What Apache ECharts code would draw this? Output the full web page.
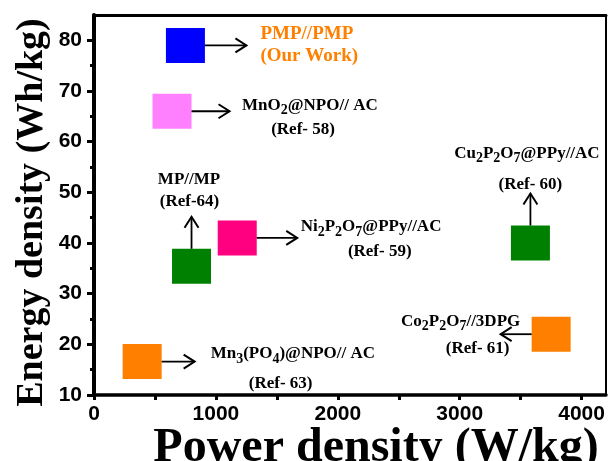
<!DOCTYPE html>
<html>
<head>
<meta charset="utf-8">
<script src="https://cdn.jsdelivr.net/npm/echarts@6/dist/echarts.min.js"></script>
<style>
  html, body { margin: 0; padding: 0; background: #ffffff; }
  #chart { width: 610px; height: 461px; }
</style>
</head>
<body>
<div id="chart"></div>
<script>
// Ragone plot: energy density against power density for several supercapacitor devices.
const devices = ['PMP//PMP', 'MnO₂@NPO// AC', 'MP//MP', 'Ni₂P₂O₇@PPy//AC', 'Cu₂P₂O₇@PPy//AC', 'Co₂P₂O₇//3DPG', 'Mn₃(PO₄)@NPO// AC'];
const references = ['(Our Work)', '(Ref- 58)', '(Ref-64)', '(Ref- 59)', '(Ref- 60)', '(Ref- 61)', '(Ref- 63)'];
const powerDensity = [750, 640, 800, 1175, 3580, 3750, 395];      // W/kg
const energyDensity = [79, 66, 35.4, 41, 40, 22, 16.6];          // Wh/kg

const xTickValues = [0, 500, 1000, 1500, 2000, 2500, 3000, 3500, 4000];
const xLabelValues = [0, 1000, 2000, 3000, 4000];
const yLabelValues = [10, 20, 30, 40, 50, 60, 70, 80];
const yMinorValues = [15, 25, 35, 45, 55, 65, 75];

// Marker fill for each device
const markerColors = ['#0000ff', '#ff80ff', '#008000', '#ff0080', '#008000', '#ff8000', '#ff8000'];

// Callout layout, in pixels relative to the marker centre:
// arrow direction and span, then the anchor of the device name and the reference line.
const callouts = [
  { dir: 'right', from: 19.5, to: 61,   name: [75, -13.5, 'left'],     ref: [75, 8.5, 'left'],        color: '#ff8000', size: 19 },
  { dir: 'right', from: 19.5, to: 57.5, name: [70, -7.5, 'left'],      ref: [131, 16.5, 'center'],    color: '#000000', size: 17 },
  { dir: 'up',    from: 17.5, to: 49.5, name: [-2.5, -89, 'center'],   ref: [-2, -67, 'center'],      color: '#000000', size: 17 },
  { dir: 'right', from: 19.5, to: 60,   name: [63.5, -13, 'left'],     ref: [142.5, 11.5, 'center'],  color: '#000000', size: 17 },
  { dir: 'up',    from: 17.5, to: 49.5, name: [-3.5, -91.5, 'center'], ref: [0, -60.5, 'center'],     color: '#000000', size: 17 },
  { dir: 'left',  from: 19.5, to: 50.5, name: [-90.5, -14.5, 'center'], ref: [-73.5, 12.5, 'center'], color: '#000000', size: 17 },
  { dir: 'right', from: 19.5, to: 52.5, name: [68.5, -9.5, 'left'],    ref: [138.5, 20.5, 'center'],  color: '#000000', size: 17 }
];

const SUBS = { '₀': '0', '₁': '1', '₂': '2', '₃': '3', '₄': '4', '₅': '5', '₆': '6', '₇': '7', '₈': '8', '₉': '9' };
const LABEL_FAMILY = '"Liberation Serif", "Times New Roman", serif';

// Split a label into normal and subscript runs (Unicode subscript digits become lowered digits)
function splitRuns(str) {
  const runs = [];
  for (const ch of str) {
    const sub = !!SUBS[ch];
    const c = sub ? SUBS[ch] : ch;
    const last = runs[runs.length - 1];
    if (last && last.sub === sub) last.text += c;
    else runs.push({ text: c, sub });
  }
  return runs;
}

const measureCtx = document.createElement('canvas').getContext('2d');
function textWidth(text, size) {
  measureCtx.font = 'bold ' + size + 'px ' + LABEL_FAMILY;
  return measureCtx.measureText(text).width;
}

// One text element per run, laid out left to right around an anchor
function labelPieces(str, x, y, align, size, color) {
  const subSize = Math.round(size * 0.85);
  const runs = splitRuns(str).map(r => {
    const s = r.sub ? subSize : size;
    return { ...r, size: s, w: textWidth(r.text, s) };
  });
  const total = runs.reduce((a, r) => a + r.w, 0);
  let cursor = align === 'center' ? x - total / 2 : (align === 'right' ? x - total : x);
  return runs.map(r => {
    const el = {
      type: 'text', x: cursor, y: r.sub ? y + 5 : y,
      style: {
        text: r.text, fill: color, fontFamily: LABEL_FAMILY, fontWeight: 'bold',
        fontSize: r.size, align: 'left', verticalAlign: 'middle'
      }
    };
    cursor += r.w;
    return el;
  });
}

const points = powerDensity.map((x, i) => [x, energyDensity[i]]);

function renderCallout(params, api) {
  const i = params.dataIndex;
  const c = api.coord([api.value(0), api.value(1)]);
  const L = callouts[i];
  const cx = c[0], cy = c[1];
  let x1, y1, x2, y2, head;
  const hl = 11, hw = 7;
  if (L.dir === 'right') {
    x1 = cx + L.from; x2 = cx + L.to; y1 = y2 = cy;
    head = [[x2 - hl, y2 - hw], [x2, y2], [x2 - hl, y2 + hw]];
  } else if (L.dir === 'left') {
    x1 = cx - L.from; x2 = cx - L.to; y1 = y2 = cy;
    head = [[x2 + hl, y2 - hw], [x2, y2], [x2 + hl, y2 + hw]];
  } else {
    x1 = x2 = cx; y1 = cy - L.from; y2 = cy - L.to;
    head = [[x2 - hw, y2 + hl], [x2, y2], [x2 + hw, y2 + hl]];
  }
  const children = [
    { type: 'line', shape: { x1, y1, x2, y2 }, style: { stroke: '#000', lineWidth: 1.8 } },
    { type: 'polyline', shape: { points: head }, style: { stroke: '#000', lineWidth: 2, fill: null } }
  ];
  children.push(...labelPieces(devices[i], cx + L.name[0], cy + L.name[1] + 2, L.name[2], L.size, L.color));
  children.push(...labelPieces(references[i], cx + L.ref[0], cy + L.ref[1] + 2, L.ref[2], L.size, L.color));
  return { type: 'group', children };
}

const chart = echarts.init(document.getElementById('chart'), null, { renderer: 'canvas' });

const tickFont = { fontFamily: 'Liberation Sans', fontWeight: 'bold', color: '#000' };

chart.setOption({
  animation: false,
  backgroundColor: '#ffffff',
  grid: { left: 94, right: 4, top: 15, bottom: 66, containLabel: false, outerBoundsMode: 'none' },
  xAxis: [
    {
      type: 'value', position: 'bottom', min: 0, max: 4200, interval: 1000,
      axisLine: { show: true, lineStyle: { color: '#000', width: 3.5 } },
      axisTick: { show: true, inside: false, length: 5, lineStyle: { color: '#000', width: 3 }, customValues: xTickValues },
      axisLabel: { ...tickFont, fontSize: 21, margin: 9, customValues: xLabelValues, formatter: (v) => String(v) },
      splitLine: { show: false },
      name: 'Power density (W/kg)', nameLocation: 'middle', nameGap: 30, nameMoveOverlap: false,
      nameTextStyle: { fontFamily: 'Liberation Serif', fontWeight: 'bold', fontSize: 48, color: '#000', padding: [0, 0, 0, 52], verticalAlign: 'top' }
    },
    {
      type: 'value', position: 'top', min: 0, max: 4200,
      axisLine: { show: true, lineStyle: { color: '#000', width: 3 } },
      axisTick: { show: false }, axisLabel: { show: false }, splitLine: { show: false }
    }
  ],
  yAxis: [
    {
      type: 'value', position: 'left', min: 10, max: 85, interval: 10, offset: 0,
      axisLine: { show: true, lineStyle: { color: '#000', width: 4 } },
      axisTick: { show: true, inside: false, length: 7, lineStyle: { color: '#000', width: 3 }, customValues: yLabelValues },
      axisLabel: { ...tickFont, fontSize: 21, margin: 12, customValues: yLabelValues, formatter: (v) => String(v) },
      splitLine: { show: false },
      name: 'Energy density (Wh/kg)', nameLocation: 'middle', nameRotate: 90, nameGap: 43, nameMoveOverlap: false,
      nameTextStyle: { fontFamily: 'Liberation Serif', fontWeight: 'bold', fontSize: 38, color: '#000', padding: [0, 15, 0, 0] }
    },
    {
      type: 'value', position: 'left', min: 10, max: 85, offset: 0,
      axisLine: { show: false },
      axisTick: { show: true, inside: false, length: 4, lineStyle: { color: '#000', width: 3 }, customValues: yMinorValues },
      axisLabel: { show: false }, splitLine: { show: false }
    },
    {
      type: 'value', position: 'right', min: 10, max: 85, offset: 0,
      axisLine: { show: true, lineStyle: { color: '#000', width: 2 } },
      axisTick: { show: false }, axisLabel: { show: false }, splitLine: { show: false }
    }
  ],
  series: [
    {
      type: 'scatter', xAxisIndex: 0, yAxisIndex: 0, data: points,
      symbol: 'rect', symbolSize: [39, 35], z: 3,
      itemStyle: { color: (p) => markerColors[p.dataIndex], opacity: 1 },
      emphasis: { disabled: true }
    },
    {
      type: 'custom', xAxisIndex: 0, yAxisIndex: 0, data: points, z: 4,
      renderItem: renderCallout, clip: false, silent: true
    }
  ]
});
</script>
</body>
</html>
